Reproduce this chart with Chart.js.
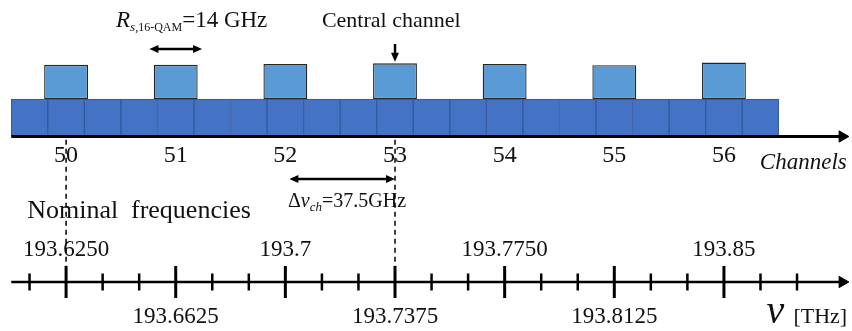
<!DOCTYPE html>
<html>
<head>
<meta charset="utf-8">
<script src="https://cdn.jsdelivr.net/npm/chart.js@4.4.1/dist/chart.umd.min.js"></script>
<style>
  html, body { margin: 0; padding: 0; background: #fff; }
  canvas { display: block; }
</style>
</head>
<body>
<canvas id="grid" width="852" height="331"></canvas>
<script>
// 12.5 GHz flexible-grid slots (centre frequencies, GHz)
const slotCenters = [193612.5, 193625, 193637.5, 193650, 193662.5, 193675, 193687.5,
  193700, 193712.5, 193725, 193737.5, 193750, 193762.5, 193775, 193787.5, 193800,
  193812.5, 193825, 193837.5, 193850, 193862.5];
// 16-QAM channels on the 37.5 GHz grid
const channels = [50, 51, 52, 53, 54, 55, 56];
const channelFreqs = [193625, 193662.5, 193700, 193737.5, 193775, 193812.5, 193850];
const signalTops = [1.91, 1.91, 1.93, 1.95, 1.93, 1.90, 1.97];
const markedChannels = [50, 53];
// nominal frequency axis
const freqTicks = [193612.5, 193625, 193637.5, 193650, 193662.5, 193675, 193687.5,
  193700, 193712.5, 193725, 193737.5, 193750, 193762.5, 193775, 193787.5, 193800,
  193812.5, 193825, 193837.5, 193850, 193862.5, 193875];
const freqLabels = ['193.6250', '193.6625', '193.7', '193.7375', '193.7750', '193.8125', '193.85'];

// layout (x in GHz, y in slot heights)
const X_MIN = 193602.4, X_MAX = 193893.8;
const Y_MIN = -5.187, Y_MAX = 3.64;
const AXIS_START = 193606.25, AXIS_END = 193890.5;
const FREQ_AXIS_Y = -3.88;

const SERIF = '"Liberation Serif", "Times New Roman", serif';
const font = (size, italic) => (italic ? 'italic ' : '') + size + 'px ' + SERIF;
const isMajor = f => channelFreqs.includes(f);
const chFreq = ch => channelFreqs[channels.indexOf(ch)];

// text made of runs with different size / style / offset
function drawRuns(ctx, runs, x, y) {
  ctx.textAlign = 'left';
  ctx.textBaseline = 'alphabetic';
  runs.forEach(r => {
    ctx.font = font(r.size, r.italic);
    ctx.fillText(r.t, x, y + (r.dy || 0));
    x += ctx.measureText(r.t).width;
  });
}

function drawArrow(ctx, x1, y1, x2, y2, both) {
  const head = 9, half = 4;
  const ang = Math.atan2(y2 - y1, x2 - x1);
  const tip = (x, y, a) => {
    ctx.beginPath();
    ctx.moveTo(x, y);
    ctx.lineTo(x - head * Math.cos(a) + half * Math.sin(a), y - head * Math.sin(a) - half * Math.cos(a));
    ctx.lineTo(x - head * Math.cos(a) - half * Math.sin(a), y - head * Math.sin(a) + half * Math.cos(a));
    ctx.closePath();
    ctx.fill();
  };
  ctx.lineWidth = 2.5;
  ctx.beginPath();
  ctx.moveTo(x1 + (both ? head * 0.8 * Math.cos(ang) : 0), y1 + (both ? head * 0.8 * Math.sin(ang) : 0));
  ctx.lineTo(x2 - head * 0.8 * Math.cos(ang), y2 - head * 0.8 * Math.sin(ang));
  ctx.stroke();
  tip(x2, y2, ang);
  if (both) tip(x1, y1, ang + Math.PI);
}

const diagramText = {
  id: 'diagramText',
  beforeDatasetsDraw(chart) {
    const { ctx, scales: { x, y } } = chart;
    ctx.save();
    ctx.fillStyle = '#111';

    // channel numbers
    ctx.font = font(24);
    ctx.textAlign = 'center';
    ctx.textBaseline = 'middle';
    channels.forEach((ch, i) => {
      ctx.fillText(String(ch), x.getPixelForValue(channelFreqs[i]), y.getPixelForValue(-0.52));
    });
    ctx.font = font(23, true);
    ctx.textAlign = 'right';
    ctx.fillText('Channels', x.getPixelForValue(193892), y.getPixelForValue(-0.71));

    // nominal frequency labels, alternating above / below the axis
    ctx.font = font(23);
    ctx.textAlign = 'center';
    ctx.textBaseline = 'alphabetic';
    freqLabels.forEach((t, i) => {
      const ly = i % 2 === 0 ? -3.2 : -4.973;
      ctx.fillText(t, x.getPixelForValue(channelFreqs[i]), y.getPixelForValue(ly));
    });

    ctx.font = font(26);
    ctx.textAlign = 'left';
    ctx.fillText('Nominal', x.getPixelForValue(193611.7), y.getPixelForValue(-2.173));
    ctx.fillText('frequencies', x.getPixelForValue(193647.2), y.getPixelForValue(-2.173));

    // axis unit
    drawRuns(ctx, [
      { t: 'ν', size: 40, italic: true },
      { t: ' ', size: 36 },
      { t: '[THz]', size: 22 }
    ], x.getPixelForValue(193864.6), y.getPixelForValue(-4.973));

    // annotations
    drawRuns(ctx, [
      { t: 'R', size: 23, italic: true },
      { t: 's', size: 13, italic: true, dy: 4 },
      { t: ',16-QAM', size: 12, dy: 4 },
      { t: '=14 GHz', size: 23 }
    ], x.getPixelForValue(193642.1), y.getPixelForValue(2.907));

    drawRuns(ctx, [
      { t: 'Δ', size: 20 },
      { t: 'ν', size: 20, italic: true },
      { t: 'ch', size: 13, italic: true, dy: 4 },
      { t: '=37.5GHz', size: 20 }
    ], x.getPixelForValue(193700.9), y.getPixelForValue(-1.867));

    ctx.font = font(22);
    ctx.fillText('Central channel', x.getPixelForValue(chFreq(53) - 25), y.getPixelForValue(2.907));
    ctx.restore();
  },
  afterDatasetsDraw(chart) {
    const { ctx, scales: { x, y } } = chart;
    ctx.save();
    ctx.fillStyle = '#000';
    ctx.strokeStyle = '#000';
    // symbol-rate arrow over channel 51
    const c51 = chFreq(51);
    drawArrow(ctx, x.getPixelForValue(c51 - 9), y.getPixelForValue(2.333),
      x.getPixelForValue(c51 + 9), y.getPixelForValue(2.333), true);
    // channel spacing arrow 52 -> 53
    drawArrow(ctx, x.getPixelForValue(chFreq(52)) + 4, y.getPixelForValue(-1.133),
      x.getPixelForValue(chFreq(53)), y.getPixelForValue(-1.133), true);
    // central channel pointer
    const c53 = x.getPixelForValue(chFreq(53));
    drawArrow(ctx, c53, y.getPixelForValue(2.467), c53, y.getPixelForValue(1.99), false);
    ctx.restore();
  }
};

const axisLine = (yv, width) => ({
  type: 'line',
  data: [{ x: AXIS_START, y: yv }, { x: AXIS_END, y: yv }],
  borderColor: '#000',
  borderWidth: width,
  pointStyle: 'triangle',
  pointRotation: 90,
  pointRadius: [0, 6.5],
  pointBackgroundColor: '#000',
  pointBorderColor: '#000',
  pointBorderWidth: 1,
  order: 1
});

const markerLines = markedChannels.map(ch => ({
  type: 'line',
  data: [{ x: chFreq(ch), y: -0.09 }, { x: chFreq(ch), y: ch === 50 ? -4.31 : -4.2 }],
  borderColor: '#000',
  borderWidth: 1.5,
  borderDash: [5, 4],
  pointRadius: 0,
  order: 0
}));

new Chart(document.getElementById('grid'), {
  type: 'bar',
  data: {
    datasets: [
      ...markerLines,
      axisLine(0, 3),
      axisLine(FREQ_AXIS_Y, 2.5),
      {
        type: 'line',
        showLine: false,
        data: freqTicks.map(f => ({ x: f, y: FREQ_AXIS_Y })),
        pointStyle: 'line',
        pointRotation: 90,
        pointRadius: c => isMajor(c.raw.x) ? 16 : 8.5,
        pointBorderWidth: c => isMajor(c.raw.x) ? 3 : 2.5,
        pointBorderColor: '#000',
        order: 1
      },
      {
        type: 'bar',
        data: channelFreqs.map((f, i) => ({ x: f, y: [1, signalTops[i]] })),
        backgroundColor: '#5B9BD5',
        borderColor: '#262626',
        borderWidth: 1.3,
        borderSkipped: false,
        barPercentage: 1.2,
        categoryPercentage: 1,
        grouped: false,
        order: 3
      },
      {
        type: 'bar',
        data: slotCenters.map(f => ({ x: f, y: [0, 1] })),
        backgroundColor: '#4472C4',
        borderColor: '#34599C',
        borderWidth: 1,
        borderSkipped: false,
        barPercentage: 1,
        categoryPercentage: 1,
        grouped: false,
        order: 4
      }
    ]
  },
  options: {
    responsive: false,
    devicePixelRatio: 1,
    animation: false,
    events: [],
    layout: { padding: 0, autoPadding: false },
    plugins: { legend: { display: false }, tooltip: { enabled: false } },
    scales: {
      x: { type: 'linear', min: X_MIN, max: X_MAX, offset: false, display: false, ticks: { stepSize: 100 } },
      y: { type: 'linear', min: Y_MIN, max: Y_MAX, display: false }
    }
  },
  plugins: [diagramText]
});
</script>
</body>
</html>
